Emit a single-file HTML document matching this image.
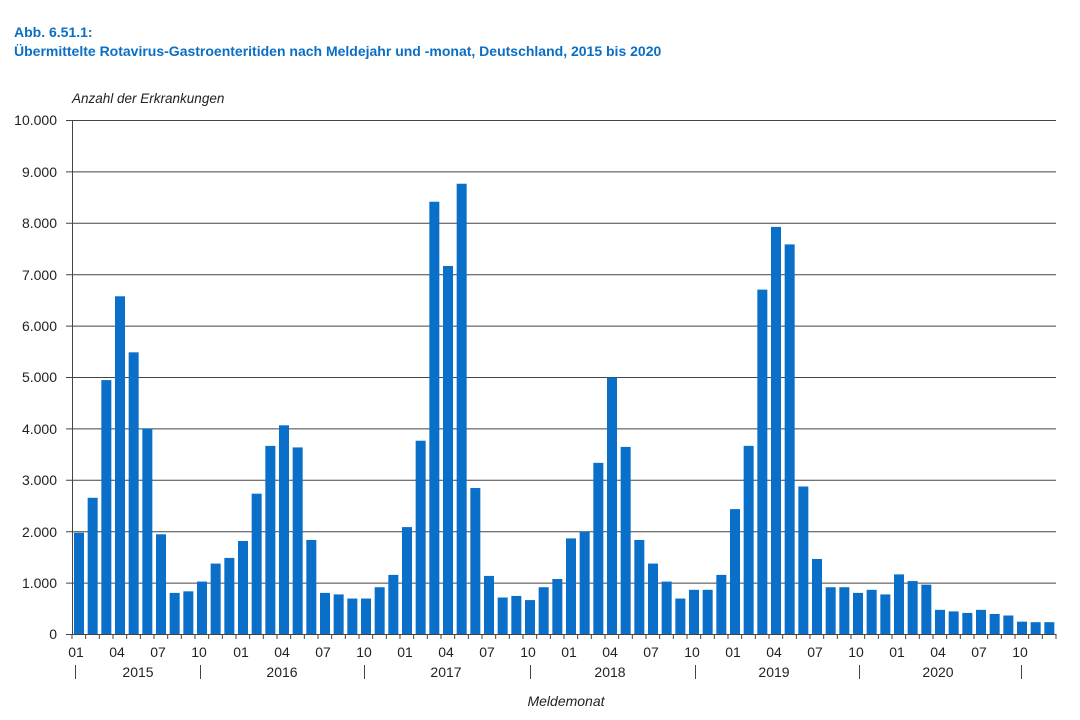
<!DOCTYPE html>
<html><head><meta charset="utf-8"><style>
body{margin:0;background:#fff;}
svg{display:block;font-family:"Liberation Sans",sans-serif;}
</style></head><body>
<svg id="s" width="1080" height="720" xmlns="http://www.w3.org/2000/svg">
<text x="14" y="37" font-size="14" font-weight="bold" fill="#0a6fc4">Abb. 6.51.1:</text>
<text x="14" y="56" font-size="14" font-weight="bold" fill="#0a6fc4">Übermittelte Rotavirus-Gastroenteritiden nach Meldejahr und -monat, Deutschland, 2015 bis 2020</text>
<text x="72" y="103" font-size="13.5" font-style="italic" fill="#222">Anzahl der Erkrankungen</text>
<g id="grid" stroke="#444" stroke-width="1"></g>
<g id="bars" fill="#0a6fc9"></g>
<g font-size="14" fill="#222" text-anchor="end">
<text x="57" y="125">10.000</text><text x="57" y="177">9.000</text><text x="57" y="228">8.000</text><text x="57" y="280">7.000</text><text x="57" y="331">6.000</text><text x="57" y="382">5.000</text><text x="57" y="434">4.000</text><text x="57" y="485">3.000</text><text x="57" y="537">2.000</text><text x="57" y="588">1.000</text><text x="57" y="639">0</text>
</g>
<g font-size="14" fill="#222" text-anchor="middle">
<text x="76" y="657">01</text><text x="117" y="657">04</text><text x="158" y="657">07</text><text x="199" y="657">10</text>
<text x="241" y="657">01</text><text x="282" y="657">04</text><text x="323" y="657">07</text><text x="364" y="657">10</text>
<text x="405" y="657">01</text><text x="446" y="657">04</text><text x="487" y="657">07</text><text x="528" y="657">10</text>
<text x="569" y="657">01</text><text x="610" y="657">04</text><text x="651" y="657">07</text><text x="692" y="657">10</text>
<text x="733" y="657">01</text><text x="774" y="657">04</text><text x="815" y="657">07</text><text x="856" y="657">10</text>
<text x="897" y="657">01</text><text x="938" y="657">04</text><text x="979" y="657">07</text><text x="1020" y="657">10</text>
<text x="138" y="677">2015</text><text x="282" y="677">2016</text><text x="446" y="677">2017</text><text x="610" y="677">2018</text><text x="774" y="677">2019</text><text x="938" y="677">2020</text>
<text x="566" y="706" font-style="italic">Meldemonat</text>
</g>
<g stroke="#444" stroke-width="1">
<line x1="75.5" y1="665" x2="75.5" y2="679"/><line x1="200.5" y1="665" x2="200.5" y2="679"/><line x1="364.5" y1="665" x2="364.5" y2="679"/><line x1="530.5" y1="665" x2="530.5" y2="679"/><line x1="695.5" y1="665" x2="695.5" y2="679"/><line x1="859.5" y1="665" x2="859.5" y2="679"/><line x1="1021.5" y1="665" x2="1021.5" y2="679"/>
</g>
</svg>
<script>
var v=[1970,2650,4940,6570,5480,4000,1940,800,830,1020,1370,1480,
1810,2730,3660,4060,3630,1830,800,770,690,690,910,1150,
2080,3760,8410,7160,8760,2840,1130,710,740,660,910,1070,
1860,1990,3330,4990,3640,1830,1370,1020,690,860,860,1150,
2430,3660,6700,7920,7580,2870,1460,910,910,800,860,770,
1160,1030,960,470,440,410,470,390,360,240,230,230];
var ns="http://www.w3.org/2000/svg",g=document.getElementById('grid'),b=document.getElementById('bars');
function el(p,t,a){var e=document.createElementNS(ns,t);for(var k in a)e.setAttribute(k,a[k]);p.appendChild(e);}
for(var i=0;i<=10;i++){var y=634-i*51.4;el(g,'line',{x1:66,x2:1056,y1:y+0.5,y2:y+0.5});}
el(g,'line',{x1:72.5,x2:72.5,y1:120,y2:634});
var dx=(1056-72)/72;
for(var i=0;i<=72;i++){var x=72+i*dx;el(g,'line',{x1:x,x2:x,y1:634,y2:639});}
for(var i=0;i<72;i++){var h=v[i]*0.0514;el(b,'rect',{x:72+i*dx+2,y:634-h,width:10,height:h});}
</script>
</body></html>
